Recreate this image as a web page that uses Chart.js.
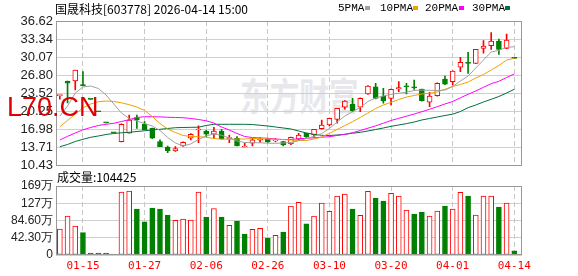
<!DOCTYPE html>
<html>
<head>
<meta charset="utf-8">
<script src="https://cdn.jsdelivr.net/npm/chart.js"></script>
<style>
  body { margin: 0; background: #fff; }
  #wrap { position: relative; width: 578px; height: 276px; overflow: hidden; }
  canvas { position: absolute; left: 0; top: 0; }
  .txt { position: absolute; white-space: nowrap; }
  #title { left: 55px; top: 0; font: 12px/17px "Noto Sans CJK SC", sans-serif; color: #000; }
  .lg { top: 0; font: 11px/17px "Liberation Mono", monospace; color: #000; }
  .sw { position: absolute; top: 6px; width: 5px; height: 4px; }
  #volname { left: 57px; top: 169px; font: 12px/16px "Noto Sans CJK SC", sans-serif; color: #000; }
  #wm { left: 240px; top: 72px; font: bold 38px/44px "Noto Sans CJK SC", sans-serif; color: #e8e8ec; transform: scaleX(0.78); transform-origin: left top; }
  #site { left: 7px; top: 93px; font: 27px/28px "Liberation Sans", Arial, sans-serif; color: #e00000; }
</style>
</head>
<body>
<div id="wrap">
  <div class="txt" id="wm">东方财富</div>
  <canvas id="priceChart" width="578" height="276"></canvas>
  <canvas id="volChart" width="578" height="276"></canvas>
  <div class="txt" id="title">国晟科技[603778] 2026-04-14 15:00</div>
  <div class="txt lg" style="left:338px">5PMA</div><div class="sw" style="left:365px;background:#a0a0a0"></div>
  <div class="txt lg" style="left:380px">10PMA</div><div class="sw" style="left:413px;background:#f0a000"></div>
  <div class="txt lg" style="left:425px">20PMA</div><div class="sw" style="left:459px;background:#ff00ff"></div>
  <div class="txt lg" style="left:472px">30PMA</div><div class="sw" style="left:505px;background:#00703c"></div>
  <div class="txt" id="volname">成交量:104425</div>
  <div class="txt" id="site">L70.CN</div>
</div>
<script>
// daily data, 2026-01-12 .. 2026-04-14
const dates = ['01-12','01-13','01-14','01-15','01-16','01-19','01-20','01-21','01-22','01-23',
  '01-26','01-27','01-28','01-29','01-30','02-02','02-03','02-04','02-05','02-06',
  '02-09','02-10','02-11','02-12','02-13','02-24','02-25','02-26','02-27','03-02',
  '03-03','03-04','03-05','03-06','03-09','03-10','03-11','03-12','03-13','03-16',
  '03-17','03-18','03-19','03-20','03-23','03-24','03-25','03-26','03-27','03-30',
  '03-31','04-01','04-02','04-03','04-07','04-08','04-09','04-10','04-13','04-14'];

const open = [23.10,25.75,25.75,25.02,22.45,20.19,18.17,16.36,14.75,16.27,
  19.10,17.90,17.17,14.75,13.78,13.06,13.97,15.37,16.87,16.69,
  16.10,16.69,15.30,15.37,13.78,14.46,15.00,15.18,14.90,14.75,
  14.33,15.18,16.27,15.96,17.10,17.77,18.80,20.98,21.52,20.98,
  23.39,24.71,23.03,22.61,24.30,24.75,24.55,24.30,21.89,23.08,
  26.11,25.62,28.23,29.13,28.95,31.67,32.14,32.99,31.67,29.88];
const high = [23.21,25.75,27.74,27.43,22.45,20.19,18.17,16.36,17.97,19.58,
  19.58,18.37,17.20,15.06,13.97,13.85,14.70,16.20,17.60,16.80,
  17.36,17.00,15.96,15.65,14.46,15.37,15.50,15.25,15.30,14.80,
  15.60,16.27,16.30,17.00,18.68,19.00,20.80,22.20,22.61,22.70,
  24.90,25.33,24.42,24.30,25.62,25.33,25.93,24.30,23.70,25.40,
  26.65,27.60,30.04,30.95,31.50,33.05,34.50,33.36,34.26,29.88];
const low = [22.43,21.76,24.12,24.90,22.41,20.17,18.15,16.34,14.71,16.27,
  17.17,16.87,15.30,13.84,12.75,13.00,13.90,15.06,14.57,15.65,
  15.37,15.20,14.57,13.97,13.78,13.97,14.60,14.60,14.70,14.00,
  14.20,15.10,15.50,15.54,17.00,17.60,18.08,20.62,20.18,20.18,
  23.30,22.50,21.71,21.40,23.80,23.39,24.20,22.10,21.09,23.00,
  25.10,25.02,27.43,27.14,28.90,30.77,31.49,30.58,31.60,29.86];
const close = [23.21,25.33,27.74,24.90,22.41,20.17,18.15,16.34,17.90,18.68,
  18.68,16.87,15.37,13.84,13.06,13.48,14.64,16.10,16.92,16.10,
  16.69,15.24,15.40,13.97,13.80,15.06,15.10,14.69,15.00,14.15,
  15.54,15.96,15.65,16.99,17.77,18.99,20.80,22.12,20.37,22.61,
  24.84,22.61,22.12,24.24,24.55,24.70,24.50,22.18,23.03,25.33,
  25.15,27.56,29.13,28.95,31.49,32.09,32.99,31.49,33.18,29.86];

// volume in 万
const volume = [63.7,95.5,71.0,54.7,4.9,4.9,4.9,2.5,154.0,156.7,
  112.7,81.6,115.0,112.7,98.0,85.0,88.0,85.7,154.0,93.0,
  114.0,93.0,72.6,83.0,51.4,63.0,65.3,41.6,48.2,56.3,
  120.0,129.0,76.7,95.5,127.3,107.0,144.5,149.4,112.7,97.0,
  156.0,139.6,132.0,151.0,144.5,110.0,100.4,105.3,95.5,107.8,
  120.0,112.7,153.5,144.5,98.0,144.5,144.5,117.6,127.3,10.44];
// 1 = red (up) volume bar, 0 = green
const volUp = [1,1,1,0,0,0,0,0,1,1, 0,0,0,0,0,1,1,1,1,0, 1,0,1,0,0,1,1,0,1,0,
  1,1,0,1,1,1,1,1,0,1, 1,0,0,1,1,1,0,0,1,1, 0,1,1,0,1,1,1,0,1,0];

const ma5 = [19.40,21.21,23.57,24.66,24.84,24.39,23.21,21.58,19.94,18.95,
  18.49,18.04,17.59,16.77,15.50,14.51,13.96,14.33,15.14,15.78,
  16.14,15.90,15.41,14.87,14.60,14.56,14.54,14.47,14.45,14.51,
  14.60,14.91,15.32,15.72,16.23,17.14,18.31,19.40,20.18,20.94,
  22.03,22.66,23.03,23.33,23.52,23.70,24.02,24.11,24.06,24.02,
  24.11,24.75,25.74,26.65,28.10,29.55,31.00,31.31,31.82,31.96];
const ma10 = [17.46,18.59,19.76,20.85,21.58,21.99,22.12,22.03,21.79,21.45,
  21.03,20.40,19.31,18.04,17.04,16.41,15.87,15.69,15.65,15.56,
  15.32,15.20,15.20,15.23,15.23,15.32,15.32,15.23,15.18,15.12,
  15.05,14.96,14.96,15.23,15.59,16.27,16.95,17.68,18.37,19.13,
  19.94,20.76,21.39,21.88,22.39,22.84,23.12,23.39,23.52,23.75,
  24.24,24.75,25.11,25.56,26.29,26.92,27.74,28.55,29.55,29.86];
const ma20 = [15.05,15.72,16.32,16.90,17.32,17.68,17.90,18.08,18.40,18.75,
  19.13,19.27,19.27,19.24,19.17,19.13,19.09,18.95,18.77,18.53,
  18.13,17.41,16.86,16.23,15.69,15.50,15.41,15.37,15.23,15.14,
  15.14,15.27,15.36,15.45,15.56,15.65,15.87,16.08,16.37,16.77,
  17.19,17.62,18.10,18.59,18.98,19.37,19.76,20.18,20.62,21.09,
  21.58,22.03,22.70,23.33,23.93,24.60,25.26,25.69,26.38,27.01];
const ma30 = [13.84,14.24,14.78,15.18,15.54,15.78,16.05,16.23,16.36,16.45,
  16.59,16.72,16.86,16.99,17.14,17.28,17.32,17.35,17.37,17.68,
  17.90,17.90,17.90,17.90,17.90,17.86,17.72,17.59,17.41,17.23,
  17.05,16.68,16.32,16.08,15.90,15.87,15.96,16.08,16.27,16.45,
  16.68,16.95,17.23,17.53,17.77,18.02,18.31,18.68,18.95,19.22,
  19.49,19.73,20.22,20.91,21.40,21.94,22.43,22.94,23.57,24.24];

const priceTicks = [10.43, 13.71, 16.98, 20.25, 23.52, 26.80, 30.07, 33.34, 36.62];
const priceLabels = ['10.43','13.71','16.98','20.25','23.52','26.80','30.07','33.34','36.62'];
const volTicks = [0, 42.3, 84.6, 126.9, 169.2];
const volLabels = ['0','42.30万','84.60万','127万','169万'];
const tickDates = ['01-15','01-27','02-06','02-26','03-10','03-20','04-01','04-14'];

const RED = '#ff0000';
const GREEN = '#008000';

const boxPlugin = {
  id: 'box',
  afterDraw(chart) {
    const a = chart.chartArea;
    const c = chart.ctx;
    c.save();
    c.strokeStyle = '#999';
    c.lineWidth = 1;
    c.strokeRect(Math.round(a.left) + 0.5, Math.round(a.top) + 0.5,
      Math.round(a.right - a.left) - 1, Math.round(a.bottom - a.top) - 1);
    c.restore();
  }
};

function xScale(showLabels) {
  return {
    type: 'linear',
    min: -0.5,
    max: 60,
    offset: false,
    afterBuildTicks: ax => { ax.ticks = tickDates.map(d => ({ value: dates.indexOf(d) })); },
    afterFit: ax => { ax.height = showLabels ? 21 : 0; },
    grid: { color: '#c8c8c8', lineWidth: 1, drawTicks: false, offset: false },
    border: { display: false, dash: [5, 3] },
    ticks: {
      display: showLabels, autoSkip: false, maxRotation: 0, padding: 5, color: RED,
      font: { family: 'DejaVu Sans Mono', size: 11 },
      callback: v => dates[v]
    }
  };
}

function yScale(tickVals, tickLabels, fontSize) {
  return {
    min: tickVals[0],
    max: tickVals[tickVals.length - 1],
    afterBuildTicks: ax => { ax.ticks = tickVals.map(v => ({ value: v })); },
    afterFit: ax => { ax.width = 56; },
    grid: { color: '#cfcfcf', lineWidth: 1, drawTicks: false },
    border: { display: false },
    ticks: {
      autoSkip: false, padding: 3, color: '#222',
      font: { family: '"Liberation Sans", Arial', size: fontSize },
      callback: (v, i) => tickLabels[i]
    }
  };
}

const up = close.map((c, i) => c >= open[i]);
const idx = dates.map((d, i) => i);

function maSet(vals, color) {
  return {
    type: 'line', order: 0,
    data: vals.map((v, i) => ({ x: i, y: v })),
    borderColor: color, borderWidth: 1, pointRadius: 0, tension: 0, fill: false
  };
}

new Chart(document.getElementById('priceChart'), {
  data: {
    datasets: [
      maSet(ma5, '#a0a0a0'),
      maSet(ma10, '#f0a000'),
      maSet(ma20, '#ff00ff'),
      maSet(ma30, '#00703c'),
      {
        type: 'bar', order: 1, grouped: false,
        data: idx.map(i => ({ x: i, y: [open[i], close[i]] })),
        backgroundColor: up.map(u => u ? '#ffffff' : GREEN),
        borderColor: up.map(u => u ? RED : GREEN),
        borderWidth: 1, borderSkipped: false, barThickness: 5, minBarLength: 1
      },
      {
        type: 'bar', order: 2, grouped: false,
        data: idx.map(i => ({ x: i, y: [low[i], high[i]] })),
        backgroundColor: up.map(u => u ? RED : GREEN),
        borderWidth: 0, barThickness: 1
      }
    ]
  },
  options: {
    responsive: false, animation: false, events: [],
    layout: { padding: { top: 21, bottom: 110.5, left: 0, right: 56 } },
    plugins: { legend: { display: false }, tooltip: { enabled: false } },
    scales: { x: xScale(false), y: yScale(priceTicks, priceLabels, 13) }
  },
  plugins: [boxPlugin]
});

new Chart(document.getElementById('volChart'), {
  type: 'bar',
  data: {
    datasets: [{
      grouped: false,
      data: idx.map(i => ({ x: i, y: volume[i] })),
      backgroundColor: volUp.map(u => u ? '#ffffff' : GREEN),
      borderColor: volUp.map(u => u ? RED : GREEN),
      borderWidth: 1, borderSkipped: false, barThickness: 5
    }]
  },
  options: {
    responsive: false, animation: false, events: [],
    layout: { padding: { top: 186, bottom: 0, left: 0, right: 56 } },
    plugins: { legend: { display: false }, tooltip: { enabled: false } },
    scales: { x: xScale(true), y: yScale(volTicks, volLabels, 12) }
  },
  plugins: [boxPlugin]
});
</script>
</body>
</html>
